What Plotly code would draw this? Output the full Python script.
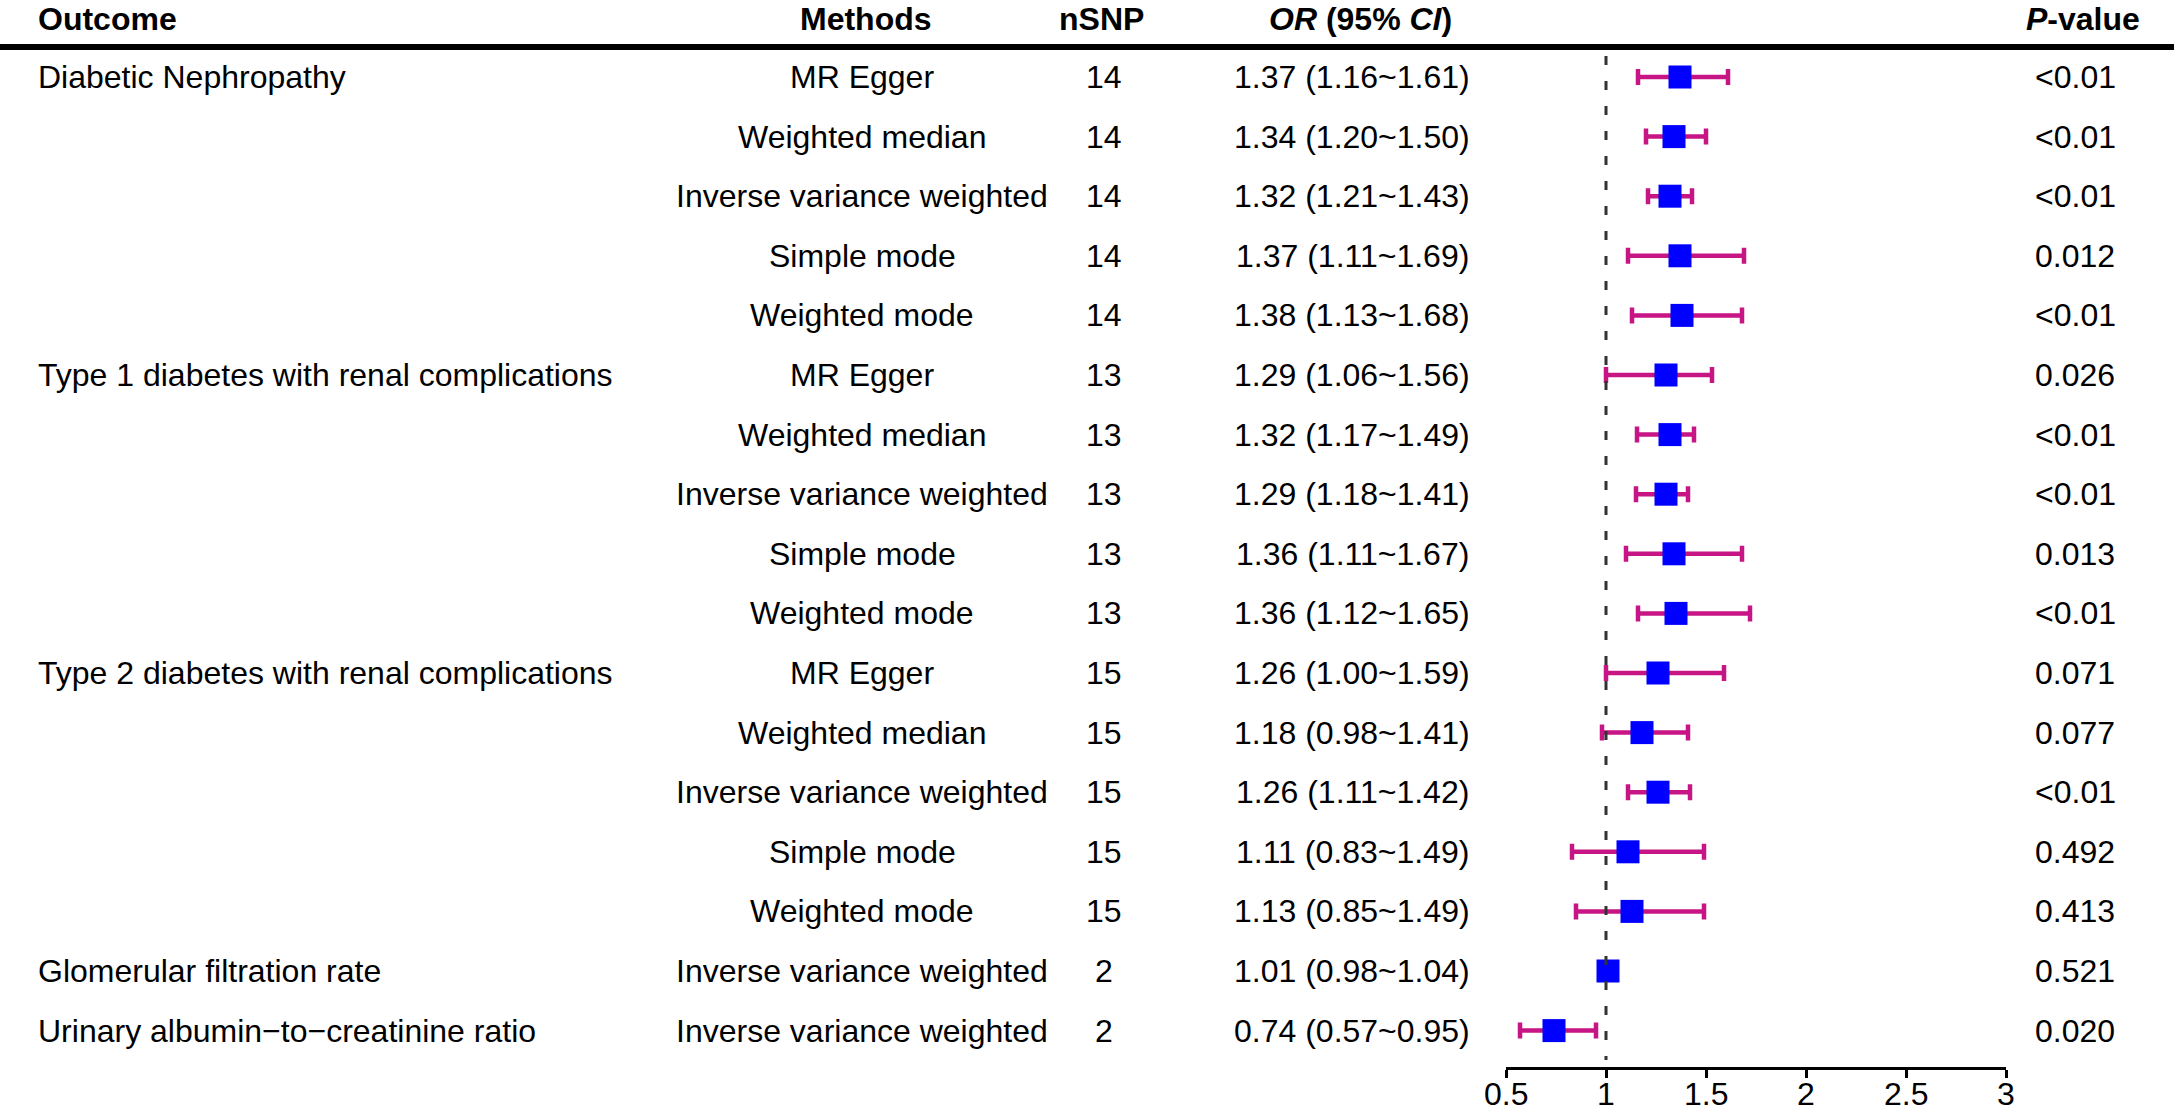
import plotly.graph_objects as go

outcomes = ["Diabetic Nephropathy", "", "", "", "",
            "Type 1 diabetes with renal complications", "", "", "", "",
            "Type 2 diabetes with renal complications", "", "", "", "",
            "Glomerular filtration rate",
            "Urinary albumin\u2212to\u2212creatinine ratio"]
methods = ["MR Egger", "Weighted median", "Inverse variance weighted", "Simple mode", "Weighted mode",
           "MR Egger", "Weighted median", "Inverse variance weighted", "Simple mode", "Weighted mode",
           "MR Egger", "Weighted median", "Inverse variance weighted", "Simple mode", "Weighted mode",
           "Inverse variance weighted", "Inverse variance weighted"]
nsnp = [14, 14, 14, 14, 14, 13, 13, 13, 13, 13, 15, 15, 15, 15, 15, 2, 2]
or_text = ["1.37 (1.16~1.61)", "1.34 (1.20~1.50)", "1.32 (1.21~1.43)", "1.37 (1.11~1.69)", "1.38 (1.13~1.68)",
           "1.29 (1.06~1.56)", "1.32 (1.17~1.49)", "1.29 (1.18~1.41)", "1.36 (1.11~1.67)", "1.36 (1.12~1.65)",
           "1.26 (1.00~1.59)", "1.18 (0.98~1.41)", "1.26 (1.11~1.42)", "1.11 (0.83~1.49)", "1.13 (0.85~1.49)",
           "1.01 (0.98~1.04)", "0.74 (0.57~0.95)"]
p_text = ["<0.01", "<0.01", "<0.01", "0.012", "<0.01",
          "0.026", "<0.01", "<0.01", "0.013", "<0.01",
          "0.071", "0.077", "<0.01", "0.492", "0.413",
          "0.521", "0.020"]
# values as drawn in the forest panel
or_plot = [1.37, 1.34, 1.32, 1.37, 1.38, 1.30, 1.32, 1.30, 1.34, 1.35, 1.26, 1.18, 1.26, 1.11, 1.13, 1.01, 0.74]
lo_plot = [1.16, 1.20, 1.21, 1.11, 1.13, 1.00, 1.155, 1.15, 1.10, 1.16, 1.00, 0.98, 1.11, 0.83, 0.85, 0.98, 0.57]
hi_plot = [1.61, 1.50, 1.43, 1.69, 1.68, 1.53, 1.44, 1.41, 1.68, 1.72, 1.59, 1.41, 1.42, 1.49, 1.49, 1.04, 0.95]
tick_vals = [0.5, 1, 1.5, 2, 2.5, 3]
tick_text = ["0.5", "1", "1.5", "2", "2.5", "3"]

W, H = 2174, 1109
FONT = "Liberation Sans, Arial, sans-serif"
FS = 32
ROW0 = 77.0      # pixel y of first row
ROWH = 59.6      # row spacing in pixels
AXIS_Y = 1067.0  # pixel y of x-axis line
X_LO, X_HI = 1506.0, 2006.0  # pixel x of 0.5 and 3

n = len(methods)
rows = list(range(n))

y_top = (0 - ROW0) / ROWH
y_bot = (AXIS_Y - ROW0) / ROWH

fig = go.Figure()
fig.add_trace(go.Scatter(
    x=or_plot, y=rows, mode="markers",
    marker=dict(symbol="square", size=23, color="#0000FF", line=dict(width=0)),
    error_x=dict(type="data", symmetric=False,
                 array=[h - o for h, o in zip(hi_plot, or_plot)],
                 arrayminus=[o - l for o, l in zip(or_plot, lo_plot)],
                 color="#C71585", thickness=4.5, width=8),
    showlegend=False, hoverinfo="skip", cliponaxis=False))

ann = []
def px2paper(py):
    return 1 - py / H

hy = px2paper(19)
ann.append(dict(text="<b>Outcome</b>", x=36 / W, y=hy, xanchor="left"))
ann.append(dict(text="<b>Methods</b>", x=866 / W, y=hy, xanchor="center"))
ann.append(dict(text="<b>nSNP</b>", x=1101 / W, y=hy, xanchor="center"))
ann.append(dict(text="<b><i>OR</i> (95% <i>CI</i>)</b>", x=1360 / W, y=hy, xanchor="center"))
ann.append(dict(text="<b><i>P</i>-value</b>", x=2083 / W, y=hy, xanchor="center"))
for a in ann:
    a.update(xref="paper", yref="paper", yanchor="middle", showarrow=False,
             font=dict(family=FONT, size=FS, color="black"))

for i in rows:
    common = dict(xref="paper", yref="y", y=i, yanchor="middle", showarrow=False,
                  font=dict(family=FONT, size=FS, color="black"))
    if outcomes[i]:
        ann.append(dict(text=outcomes[i], x=36 / W, xanchor="left", **common))
    ann.append(dict(text=methods[i], x=862 / W, xanchor="center", **common))
    ann.append(dict(text=str(nsnp[i]), x=1104 / W, xanchor="center", **common))
    ann.append(dict(text=or_text[i], x=1352 / W, xanchor="center", **common))
    ann.append(dict(text=p_text[i], x=2075 / W, xanchor="center", **common))

# x-axis tick labels placed on the axis scale, just above the bottom edge
for tv, tt in zip(tick_vals, tick_text):
    ann.append(dict(text=tt, x=tv, xref="x", y=px2paper(1094), yref="paper",
                    xanchor="center", yanchor="middle", showarrow=False,
                    font=dict(family=FONT, size=FS, color="black")))

shapes = [
    dict(type="line", xref="paper", yref="paper", x0=0, x1=1,
         y0=px2paper(47), y1=px2paper(47), line=dict(color="black", width=6)),
    dict(type="line", xref="x", yref="paper", x0=1, x1=1,
         y0=px2paper(56), y1=px2paper(1060),
         line=dict(color="#333333", width=3, dash="9px,16px")),
]

fig.update_layout(
    width=W, height=H, margin=dict(l=0, r=0, t=0, b=0),
    paper_bgcolor="white", plot_bgcolor="white",
    annotations=ann, shapes=shapes,
    xaxis=dict(domain=[X_LO / W, X_HI / W], range=[0.5, 3],
               tickvals=tick_vals, ticktext=tick_text, showticklabels=False,
               showline=True, linewidth=3, linecolor="black",
               ticks="outside", ticklen=8, tickwidth=3, tickcolor="black",
               showgrid=False, zeroline=False, fixedrange=True),
    yaxis=dict(domain=[1 - AXIS_Y / H, 1], range=[y_bot, y_top],
               visible=False, showgrid=False, zeroline=False, fixedrange=True),
)

fig.write_html("out.html", config={"displayModeBar": False},
               post_script="document.body.style.margin='0';document.body.style.overflow='hidden';")
